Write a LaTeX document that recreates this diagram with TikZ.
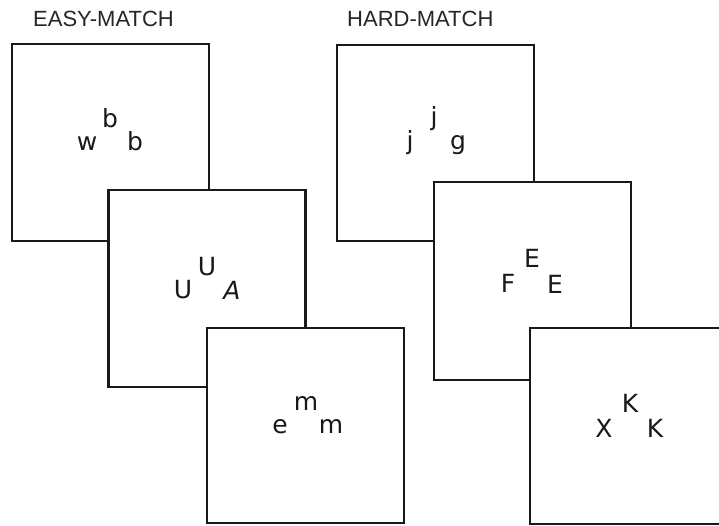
\documentclass[tikz,border=0pt]{standalone}
\usepackage{fontspec}
\setmainfont{Liberation Sans}
\newfontfamily\letterfont{DejaVu Sans}
\begin{document}
\begin{tikzpicture}[x=1pt,y=-1pt,
  card/.style={draw=black!90, line width=2.6pt, fill=white, rectangle, inner sep=0pt, minimum width=197pt},
  ltr/.style={anchor=base, inner sep=0pt, font=\letterfont\fontsize{25}{25}\selectfont, text=black!90},
  title/.style={anchor=base west, inner sep=0pt, font=\fontsize{22}{22}\selectfont, text=black!85}]
\useasboundingbox (0,0) rectangle (719,525);
\clip (0,0) rectangle (719,525);
\fill[white] (0,0) rectangle (719,525);
\node[title] (t1) at (33,26) {EASY-MATCH};
\node[title] (t2) at (347,26) {HARD-MATCH};
% easy match
\node[card, minimum height=197pt] (c1) at (110.5,142.5) {};
\node[ltr] (c1a) at (87,150) {w};
\node[ltr] (c1b) at (110,127) {b};
\node[ltr] (c1c) at (135,150) {b};
\node[card, minimum height=197pt] (c2) at (207,288.5) {};
\node[ltr] (c2a) at (183,298) {U};
\node[ltr] (c2b) at (207,275) {U};
\node[ltr] (c2c) at (232,299) {\itshape A};
\node[card, minimum height=195pt] (c3) at (305.5,425.5) {};
\node[ltr] (c3a) at (280,433) {e};
\node[ltr] (c3b) at (306,410) {m};
\node[ltr] (c3c) at (331,433) {m};
% hard match
\node[card, minimum height=196pt] (h1) at (435.5,143) {};
\node[ltr] (h1a) at (410,149) {j};
\node[ltr] (h1b) at (434,125) {j};
\node[ltr] (h1c) at (458,149) {g};
\node[card, minimum height=198pt] (h2) at (532.5,281) {};
\node[ltr] (h2a) at (508,292) {F};
\node[ltr] (h2b) at (532,267) {E};
\node[ltr] (h2c) at (555,293) {E};
\node[card, minimum height=196pt] (h3) at (628.5,426) {};
\node[ltr] (h3a) at (604,437) {X};
\node[ltr] (h3b) at (630,412) {K};
\node[ltr] (h3c) at (655,437) {K};
\end{tikzpicture}
\end{document}
